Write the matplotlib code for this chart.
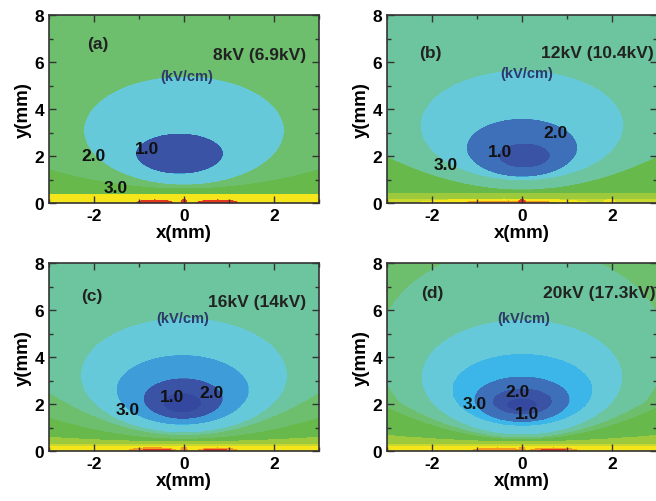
"""Four-panel field map: filled contours of |E| (kV/cm) under the electrode."""

import numpy as np
import matplotlib
matplotlib.use("Agg")
import matplotlib.pyplot as plt                      # noqa: E402
from matplotlib.colors import ListedColormap, BoundaryNorm   # noqa: E402

plt.rcParams["font.family"] = ["Liberation Sans", "DejaVu Sans"]
plt.rcParams["font.weight"] = "bold"
plt.rcParams["axes.unicode_minus"] = False

# colour bands, low field -> high field
BAND_COLORS = ["#3448a0", "#3a53a5", "#3e70b9", "#3e9dd8", "#3cb6e8",
               "#66c9da", "#6cc59e", "#6dbf6d", "#68b94c", "#9dc93c",
               "#c8d82f", "#f5e61b", "#f29a20", "#e2361f"]

panel_tags = ["(a)", "(b)", "(c)", "(d)"]
voltage_text = ["8kV (6.9kV)", "12kV (10.4kV)", "16kV (14kV)",
                "20kV (17.3kV)"]
background_band = [7, 6, 6, 7]

# nested contours, outer first: (cx, cy, half-width, half-height, band)
ellipses_a = [(0.0, 3.08, 2.23, 2.32, 5), (-0.1, 2.1, 0.98, 0.87, 1)]
ellipses_b = [(0.0, 3.3, 2.26, 2.35, 5), (0.0, 2.35, 1.24, 1.25, 2),
              (0.05, 2.02, 0.58, 0.53, 1)]
ellipses_c = [(0.0, 3.22, 2.3, 2.45, 5), (-0.03, 2.6, 1.48, 1.5, 3),
              (-0.02, 2.23, 0.89, 0.88, 1), (-0.04, 2.05, 0.43, 0.43, 0)]
ellipses_d = [(0.0, 4.35, 3.21, 4.36, 6), (0.0, 3.14, 2.24, 2.46, 5),
              (0.01, 2.6, 1.57, 1.55, 4), (0.0, 2.2, 1.07, 0.99, 2),
              (0.01, 2.11, 0.67, 0.57, 1), (0.0, 1.97, 0.34, 0.29, 0)]

# bands hugging the ground plane: region y < y0 + k*x^2 -> band
bottom_a = [(0.6, 0.09, 8), (0.35, 0.0, 11)]
bottom_b = [(0.55, 0.155, 8), (0.38, 0.0, 9), (0.14, 0.0, 10)]
bottom_c = [(0.65, 0.2, 7), (0.5, 0.1, 8), (0.4, 0.02, 9), (0.28, 0.0, 10),
            (0.18, 0.0, 11)]
bottom_d = [(0.55, 0.2, 7), (0.48, 0.15, 8), (0.4, 0.03, 9),
            (0.28, 0.0, 10), (0.18, 0.0, 11)]

# hot spots on the surface: (x, half-width, height, band)
hot_a = [(-0.65, 0.4, 0.13, 13), (0.75, 0.45, 0.13, 13),
         (0.0, 0.06, 0.16, 13)]
hot_b = [(-0.4, 1.9, 0.17, 11), (1.95, 0.14, 0.14, 11),
         (-0.3, 1.0, 0.09, 12), (0.0, 0.08, 0.15, 13)]
hot_c = [(-0.7, 0.55, 0.14, 12), (0.75, 0.45, 0.13, 12),
         (0.0, 0.08, 0.16, 12), (-0.6, 0.35, 0.08, 13),
         (0.7, 0.28, 0.08, 13)]
hot_d = [(-0.55, 0.55, 0.13, 12), (0.7, 0.55, 0.13, 12),
         (0.0, 0.08, 0.16, 12), (0.7, 0.32, 0.08, 13)]

# contour value labels: (text, x, y)
labels_a = [("1.0", -0.83, 2.34), ("2.0", -2.01, 2.04), ("3.0", -1.52, 0.67)]
labels_b = [("2.0", 0.74, 3.0), ("1.0", -0.49, 2.18), ("3.0", -1.70, 1.63)]
labels_c = [("1.0", -0.27, 2.32), ("2.0", 0.6, 2.49), ("3.0", -1.25, 1.75)]
labels_d = [("2.0", -0.11, 2.53), ("1.0", 0.11, 1.61), ("3.0", -1.06, 2.04)]

tag_pos = [(-1.91, 6.77), (-2.04, 6.41), (-2.05, 6.6), (-1.99, 6.74)]
volt_pos = [(2.71, 6.34), (2.93, 6.41), (2.71, 6.38), (2.96, 6.74)]
unit_pos = [(0.07, 5.39), (0.10, 5.53), (-0.02, 5.67), (0.04, 5.67)]

ELLIPSES = [ellipses_a, ellipses_b, ellipses_c, ellipses_d]
BOTTOMS = [bottom_a, bottom_b, bottom_c, bottom_d]
HOTS = [hot_a, hot_b, hot_c, hot_d]
LABELS = [labels_a, labels_b, labels_c, labels_d]


def band_map(X, Y, i):
    Z = np.full(X.shape, float(background_band[i]))
    for cx, cy, a, b, band in ELLIPSES[i]:
        Z[((X - cx) / a) ** 2 + ((Y - cy) / b) ** 2 <= 1] = band
    for y0, k, band in BOTTOMS[i]:
        Z[Y <= y0 + k * X ** 2] = band
    for hx, hw, hh, band in HOTS[i]:
        Z[((X - hx) / hw) ** 2 + (Y / hh) ** 2 <= 1] = band
    return Z


x = np.linspace(-3, 3, 601)
y = np.linspace(0, 8, 801)
X, Y = np.meshgrid(x, y)

cmap = ListedColormap(BAND_COLORS)
norm = BoundaryNorm(np.arange(-0.5, len(BAND_COLORS)), cmap.N)

fig = plt.figure(figsize=(6.56, 5.02), dpi=100)
boxes = [(49, 16), (387, 16), (49, 264), (387, 264)]
txt = "#222222"
for i, (px, py) in enumerate(boxes):
    ax = fig.add_axes([px / 656, 1 - (py + 188) / 502, 270 / 656, 188 / 502])
    ax.contourf(X, Y, band_map(X, Y, i), levels=np.arange(-0.5, 14),
                cmap=cmap, norm=norm, antialiased=False)
    ax.set_xlim(-3, 3)
    ax.set_ylim(0, 8)
    ax.set_xticks([-2, 0, 2])
    ax.set_xticks([-3, -1, 1, 3], minor=True)
    ax.set_yticks([0, 2, 4, 6, 8])
    ax.set_yticks([1, 3, 5, 7], minor=True)
    ax.tick_params(which="both", direction="in", top=True, right=True,
                   labelsize=12.5, width=1.0, color="#333333")
    ax.tick_params(which="major", length=5)
    ax.tick_params(which="minor", length=3)
    for s in ax.spines.values():
        s.set_linewidth(1.2)
        s.set_color("#333333")
    ax.set_xlabel("x(mm)", fontsize=13.5, fontweight="bold", labelpad=1)
    ax.set_ylabel("y(mm)", fontsize=13.5, fontweight="bold", labelpad=2)

    tx, ty = tag_pos[i]
    ax.text(tx, ty, panel_tags[i], ha="center", va="center", fontsize=12.5,
            color=txt)
    vx, vy = volt_pos[i]
    ax.text(vx, vy, voltage_text[i], ha="right", va="center", fontsize=12.5,
            color=txt)
    ux, uy = unit_pos[i]
    ax.text(ux, uy, "(kV/cm)", ha="center", va="center", fontsize=10.5,
            color="#2a3a6a")
    for s, lx, ly in LABELS[i]:
        ax.text(lx, ly, s, ha="center", va="center", fontsize=12.5,
                color="#111111")

fig.savefig("out.png", dpi=100)
